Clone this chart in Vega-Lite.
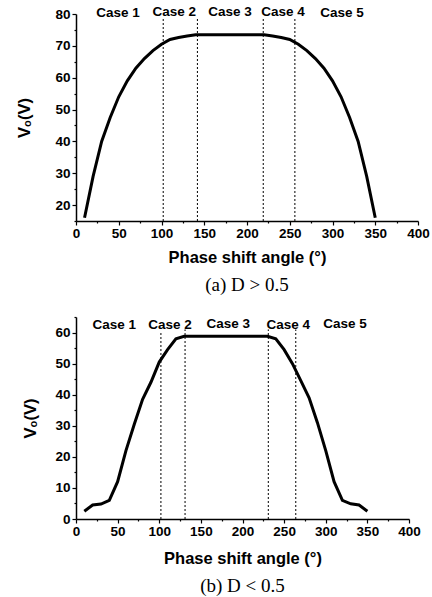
{
  "$schema": "https://vega.github.io/schema/vega-lite/v6.json",
  "background": "white",
  "padding": {"left": 16, "right": 0, "top": 5, "bottom": 2},
  "spacing": 15,
  "datasets": {
    "curve_a": [
      {"angle": 10, "vo": 16}, {"angle": 20, "vo": 29}, {"angle": 30, "vo": 40}, {"angle": 40, "vo": 47.5},
      {"angle": 50, "vo": 54}, {"angle": 60, "vo": 59}, {"angle": 70, "vo": 63}, {"angle": 80, "vo": 66},
      {"angle": 90, "vo": 68.5}, {"angle": 100, "vo": 70.5}, {"angle": 110, "vo": 72}, {"angle": 120, "vo": 72.6},
      {"angle": 130, "vo": 73.1}, {"angle": 140, "vo": 73.5}, {"angle": 150, "vo": 73.5}, {"angle": 160, "vo": 73.5},
      {"angle": 170, "vo": 73.5}, {"angle": 180, "vo": 73.5}, {"angle": 190, "vo": 73.5}, {"angle": 200, "vo": 73.5},
      {"angle": 210, "vo": 73.5}, {"angle": 220, "vo": 73.5}, {"angle": 230, "vo": 73.1}, {"angle": 240, "vo": 72.6},
      {"angle": 250, "vo": 72}, {"angle": 260, "vo": 70.5}, {"angle": 270, "vo": 68.5}, {"angle": 280, "vo": 66},
      {"angle": 290, "vo": 63}, {"angle": 300, "vo": 59}, {"angle": 310, "vo": 54}, {"angle": 320, "vo": 47.5},
      {"angle": 330, "vo": 40}, {"angle": 340, "vo": 29}, {"angle": 350, "vo": 16}
    ],
    "curve_b": [
      {"angle": 10, "vo": 2.5}, {"angle": 20, "vo": 4.5}, {"angle": 30, "vo": 4.8}, {"angle": 40, "vo": 6},
      {"angle": 50, "vo": 12}, {"angle": 60, "vo": 22}, {"angle": 70, "vo": 30.5}, {"angle": 80, "vo": 38.5},
      {"angle": 90, "vo": 44}, {"angle": 100, "vo": 50.5}, {"angle": 110, "vo": 54.5}, {"angle": 120, "vo": 58},
      {"angle": 130, "vo": 58.8}, {"angle": 140, "vo": 58.8}, {"angle": 150, "vo": 58.8}, {"angle": 160, "vo": 58.8},
      {"angle": 170, "vo": 58.8}, {"angle": 180, "vo": 58.8}, {"angle": 190, "vo": 58.8}, {"angle": 200, "vo": 58.8},
      {"angle": 210, "vo": 58.8}, {"angle": 220, "vo": 58.8}, {"angle": 230, "vo": 58.8}, {"angle": 240, "vo": 58},
      {"angle": 250, "vo": 54.5}, {"angle": 260, "vo": 50}, {"angle": 270, "vo": 44.5}, {"angle": 280, "vo": 39},
      {"angle": 290, "vo": 31}, {"angle": 300, "vo": 22}, {"angle": 310, "vo": 12}, {"angle": 320, "vo": 6},
      {"angle": 330, "vo": 4.9}, {"angle": 340, "vo": 4.5}, {"angle": 350, "vo": 2.5}
    ],
    "lines_a": [
      {"angle": 102, "vo": 15, "vo2": 79}, {"angle": 142, "vo": 15, "vo2": 79},
      {"angle": 219, "vo": 15, "vo2": 79}, {"angle": 256, "vo": 15, "vo2": 79}
    ],
    "lines_b": [
      {"angle": 102, "vo": 0, "vo2": 60.5}, {"angle": 131, "vo": 0, "vo2": 61},
      {"angle": 231, "vo": 0, "vo2": 61}, {"angle": 264, "vo": 0, "vo2": 61}
    ],
    "labels_a": [
      {"angle": 49, "vo": 80.2, "label": "Case 1"}, {"angle": 115, "vo": 80.6, "label": "Case 2"},
      {"angle": 180, "vo": 80.6, "label": "Case 3"}, {"angle": 242, "vo": 80.6, "label": "Case 4"},
      {"angle": 311, "vo": 80.2, "label": "Case 5"}
    ],
    "labels_b": [
      {"angle": 46, "vo": 62.3, "label": "Case 1"}, {"angle": 113, "vo": 62.3, "label": "Case 2"},
      {"angle": 183, "vo": 62.7, "label": "Case 3"}, {"angle": 255, "vo": 62.3, "label": "Case 4"},
      {"angle": 323, "vo": 62.8, "label": "Case 5"}
    ]
  },
  "config": {
    "view": {"stroke": null},
    "axis": {
      "grid": false,
      "labelFont": "Liberation Sans",
      "labelFontWeight": "bold",
      "labelFontSize": 13.5,
      "labelColor": "black",
      "labelOverlap": false,
      "labelFlush": false,
      "labelPadding": 2,
      "titleFont": "Liberation Sans",
      "titleFontWeight": "bold",
      "titleFontSize": 16.5,
      "titleColor": "black",
      "domainColor": "black",
      "domainWidth": 1.5,
      "tickColor": "black",
      "tickWidth": 1.2
    },
    "title": {
      "font": "Liberation Serif",
      "fontSize": 19,
      "fontWeight": "normal",
      "color": "black",
      "orient": "bottom",
      "anchor": "middle"
    },
    "text": {"font": "Liberation Sans", "fontWeight": "bold", "fontSize": 13.5, "color": "black"}
  },
  "vconcat": [
    {
      "width": 342,
      "height": 207,
      "title": {"text": "(a) D > 0.5", "offset": 10},
      "encoding": {
        "x": {
          "field": "angle", "type": "quantitative",
          "scale": {"domain": [0, 400], "nice": false, "zero": false},
          "axis": {
            "title": "Phase shift angle (°)",
            "values": [0, 25, 50, 75, 100, 125, 150, 175, 200, 225, 250, 275, 300, 325, 350, 375, 400],
            "labelExpr": "datum.value % 50 === 0 ? datum.label : ''",
            "tickSize": {"condition": {"test": "datum.value % 50 !== 0", "value": 2}, "value": 4},
            "labelPadding": 1,
            "titlePadding": 10
          }
        },
        "y": {
          "field": "vo", "type": "quantitative",
          "scale": {"domain": [15, 80], "nice": false, "zero": false},
          "axis": {
            "title": "Vₒ(V)",
            "values": [15, 20, 25, 30, 35, 40, 45, 50, 55, 60, 65, 70, 75, 80],
            "labelExpr": "datum.value % 10 === 0 ? datum.label : ''",
            "tickSize": {"condition": {"test": "datum.value % 10 !== 0", "value": 2}, "value": 4},
            "titlePadding": 22
          }
        }
      },
      "layer": [
        {
          "data": {"name": "lines_a"},
          "mark": {"type": "rule", "strokeDash": [2, 2], "strokeWidth": 1, "color": "black"},
          "encoding": {"y2": {"field": "vo2"}}
        },
        {
          "data": {"name": "curve_a"},
          "mark": {"type": "line", "color": "black", "strokeWidth": 3},
          "encoding": {}
        },
        {
          "data": {"name": "labels_a"},
          "mark": {"type": "text"},
          "encoding": {"text": {"field": "label"}}
        }
      ]
    },
    {
      "width": 333,
      "height": 202,
      "title": {"text": "(b) D < 0.5", "offset": 10},
      "encoding": {
        "x": {
          "field": "angle", "type": "quantitative",
          "scale": {"domain": [0, 400], "nice": false, "zero": false},
          "axis": {
            "title": "Phase shift angle (°)",
            "values": [0, 25, 50, 75, 100, 125, 150, 175, 200, 225, 250, 275, 300, 325, 350, 375, 400],
            "labelExpr": "datum.value % 50 === 0 ? datum.label : ''",
            "tickSize": {"condition": {"test": "datum.value % 50 !== 0", "value": 2}, "value": 4},
            "labelPadding": 1,
            "titlePadding": 13
          }
        },
        "y": {
          "field": "vo", "type": "quantitative",
          "scale": {"domain": [0, 65], "nice": false, "zero": false},
          "axis": {
            "title": "Vₒ(V)",
            "values": [0, 5, 10, 15, 20, 25, 30, 35, 40, 45, 50, 55, 60, 65],
            "labelExpr": "datum.value % 10 === 0 ? datum.label : ''",
            "tickSize": {"condition": {"test": "datum.value % 10 !== 0", "value": 2}, "value": 4},
            "titlePadding": 16
          }
        }
      },
      "layer": [
        {
          "data": {"name": "lines_b"},
          "mark": {"type": "rule", "strokeDash": [2, 2], "strokeWidth": 1, "color": "black"},
          "encoding": {"y2": {"field": "vo2"}}
        },
        {
          "data": {"name": "curve_b"},
          "mark": {"type": "line", "color": "black", "strokeWidth": 3},
          "encoding": {}
        },
        {
          "data": {"name": "labels_b"},
          "mark": {"type": "text"},
          "encoding": {"text": {"field": "label"}}
        }
      ]
    }
  ]
}
